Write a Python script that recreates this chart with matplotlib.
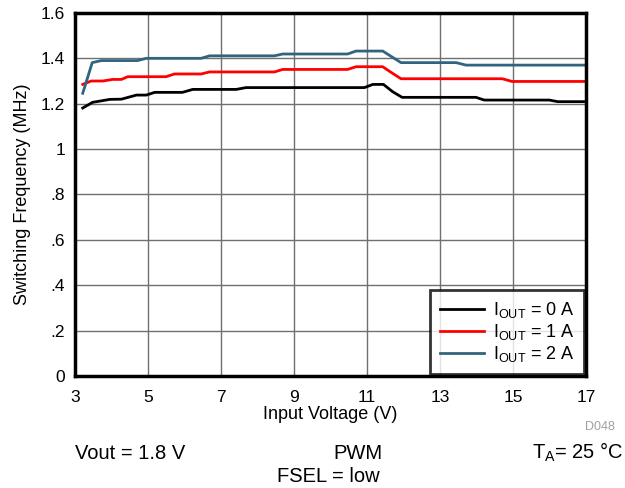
import matplotlib
matplotlib.use('Agg')
import matplotlib.pyplot as plt

plt.rcParams['font.family'] = ['Liberation Sans', 'DejaVu Sans']
plt.rcParams['mathtext.fontset'] = 'custom'
plt.rcParams['mathtext.rm'] = 'Liberation Sans'

# breakpoints
vin_0a = [3.22, 3.49, 3.96, 4.28, 4.69, 4.96, 5.19, 5.95, 6.23, 7.42, 7.69, 10.93, 11.16, 11.45, 11.70, 11.96, 13.98, 14.21, 15.99, 16.22, 17.0]
freq_0a = [1.181, 1.206, 1.219, 1.22, 1.238, 1.238, 1.25, 1.25, 1.263, 1.263, 1.271, 1.271, 1.285, 1.285, 1.253, 1.228, 1.228, 1.216, 1.216, 1.209, 1.209]

vin_1a = [3.22, 3.45, 3.77, 4.04, 4.28, 4.45, 5.5, 5.73, 6.46, 6.69, 8.47, 8.69, 10.47, 10.70, 11.43, 11.66, 11.93, 14.7, 14.97, 17.0]
freq_1a = [1.285, 1.30, 1.30, 1.307, 1.307, 1.319, 1.319, 1.331, 1.331, 1.34, 1.34, 1.351, 1.351, 1.363, 1.363, 1.338, 1.31, 1.31, 1.298, 1.298]

vin_2a = [3.22, 3.48, 3.73, 4.72, 4.96, 6.46, 6.69, 8.47, 8.69, 10.47, 10.70, 11.43, 11.93, 13.44, 13.71, 17.0]
freq_2a = [1.246, 1.381, 1.39, 1.39, 1.40, 1.40, 1.411, 1.411, 1.419, 1.419, 1.432, 1.432, 1.381, 1.381, 1.37, 1.37]

x_ticks = [3, 5, 7, 9, 11, 13, 15, 17]
y_ticks = [0, 0.2, 0.4, 0.6, 0.8, 1.0, 1.2, 1.4, 1.6]
y_labels = ['0', '.2', '.4', '.6', '.8', '1', '1.2', '1.4', '1.6']

fig = plt.figure(figsize=(6.25, 4.88), dpi=100)
ax = fig.add_axes([0.1195, 0.2295, 0.8185, 0.744])

ax.plot(vin_0a, freq_0a, color='black', lw=2, label=r'I$_{\mathregular{OUT}}$ = 0 A')
ax.plot(vin_1a, freq_1a, color='#ff0000', lw=2, label=r'I$_{\mathregular{OUT}}$ = 1 A')
ax.plot(vin_2a, freq_2a, color='#31657f', lw=2, label=r'I$_{\mathregular{OUT}}$ = 2 A')

ax.set_xlim(3, 17)
ax.set_ylim(0, 1.6)
ax.set_xticks(x_ticks)
ax.set_yticks(y_ticks)
ax.set_yticklabels(y_labels)
ax.tick_params(length=0, labelsize=12.5)
ax.tick_params(axis='x', pad=10)
ax.tick_params(axis='y', pad=7)
ax.grid(True, color='#707070', lw=1)
ax.set_axisbelow(True)
for s in ax.spines.values():
    s.set_linewidth(2.5)
    s.set_color('black')

ax.set_xlabel('Input Voltage (V)', fontsize=13, labelpad=1)
ax.set_ylabel('Switching Frequency (MHz)', fontsize=13, labelpad=7)

leg = ax.legend(loc='lower right', fontsize=13, frameon=True, fancybox=False,
                borderaxespad=0.1, handlelength=2.4, labelspacing=0.12,
                borderpad=0.55, handletextpad=0.5)
leg.get_frame().set_edgecolor('black')
leg.get_frame().set_linewidth(2)

fig.text(0.984, 0.118, 'D048', fontsize=9, color='#a0a0a0', ha='right')
fig.text(0.12, 0.06, 'Vout = 1.8 V', fontsize=14.5, ha='left')
fig.text(0.572, 0.06, 'PWM', fontsize=14.5, ha='center')
fig.text(0.525, 0.012, 'FSEL = low', fontsize=14.5, ha='center')
fig.text(0.997, 0.06, r'T$_{\mathregular{A}}$= 25 °C', fontsize=14.5, ha='right')

fig.savefig('out.png', dpi=100)
